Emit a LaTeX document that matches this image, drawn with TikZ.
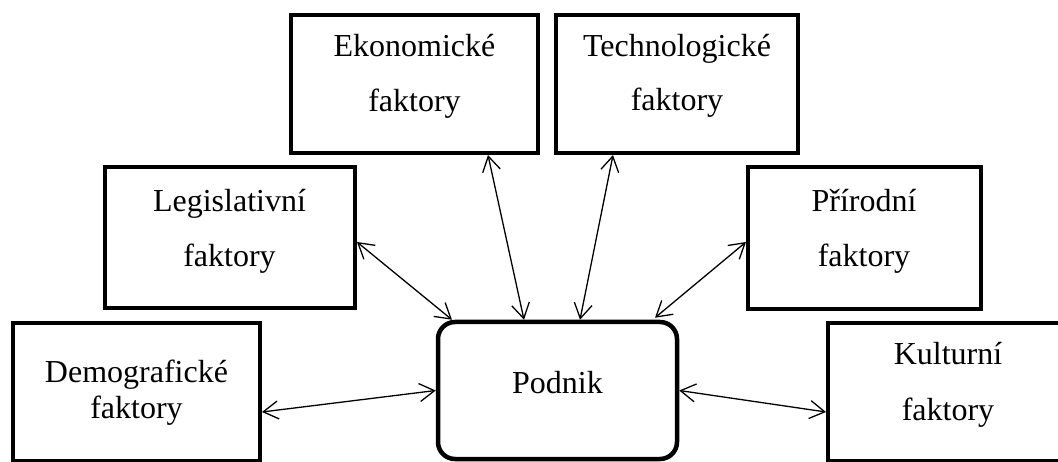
\documentclass[tikz,border=0pt]{standalone}
\usepackage{fontspec}
\setmainfont{Liberation Serif}
\usetikzlibrary{arrows.meta}
\begin{document}
\begin{tikzpicture}[x=1pt,y=-1pt,
  fbox/.style={draw,line width=4pt,inner sep=0pt,fill=white},
  pbox/.style={draw,line width=4.5pt,inner sep=0pt,rounded corners=17pt,fill=white},
  lbl/.style={anchor=base,inner sep=0pt,font=\fontsize{32}{38}\selectfont},
  link/.style={line width=1.3pt,{Straight Barb[length=15pt,width=18pt]}-{Straight Barb[length=15pt,width=18pt]}}]
\useasboundingbox (0,0) rectangle (1058,462);
\clip (0,0) rectangle (1058,462);
% boxes
\node[fbox,minimum width=247pt,minimum height=138pt] (eko) at (414.5,84) {};
\node[fbox,minimum width=242pt,minimum height=138pt] (tech) at (677,84) {};
\node[fbox,minimum width=250pt,minimum height=141pt] (leg) at (230,237.5) {};
\node[fbox,minimum width=233pt,minimum height=142pt] (pri) at (864.5,238) {};
\node[fbox,minimum width=247pt,minimum height=138pt] (dem) at (136.5,392) {};
\node[pbox,minimum width=239pt,minimum height=137pt] (pod) at (557.5,390.5) {};
\node[fbox,minimum width=240pt,minimum height=138pt] (kul) at (948,392) {};
% texts
\node[lbl] (eko1) at (414.5,57) {Ekonomické};
\node[lbl] (eko2) at (414.5,111.5) {faktory};
\node[lbl] (tech1) at (677,56.5) {Technologické};
\node[lbl] (tech2) at (677,111) {faktory};
\node[lbl] (leg1) at (229.5,212) {Legislativní};
\node[lbl] (leg2) at (229.5,267) {faktory};
\node[lbl] (pri1) at (864,212) {Přírodní};
\node[lbl] (pri2) at (864,267) {faktory};
\node[lbl] (dem1) at (136.5,383) {Demografické};
\node[lbl] (dem2) at (136.5,418) {faktory};
\node[lbl] (pod1) at (557.5,393) {Podnik};
\node[lbl] (kul1) at (948,365) {Kulturní};
\node[lbl] (kul2) at (948,420.5) {faktory};
% connectors
\draw[link] ([yshift=-4.5pt]leg.east) -- ([xshift=-105.5pt]pod.north);
\draw[link] ([xshift=73.5pt]eko.south) -- ([xshift=-33.5pt]pod.north);
\draw[link] ([xshift=-64pt]tech.south) -- ([xshift=22.5pt]pod.north);
\draw[link] ([yshift=-4pt]pri.west) -- ([xshift=97.5pt,yshift=2pt]pod.north);
\draw[link] ([yshift=-20pt]dem.east) -- (pod.west);
\draw[link] (pod.east) -- ([yshift=-20pt]kul.west);
\end{tikzpicture}
\end{document}
